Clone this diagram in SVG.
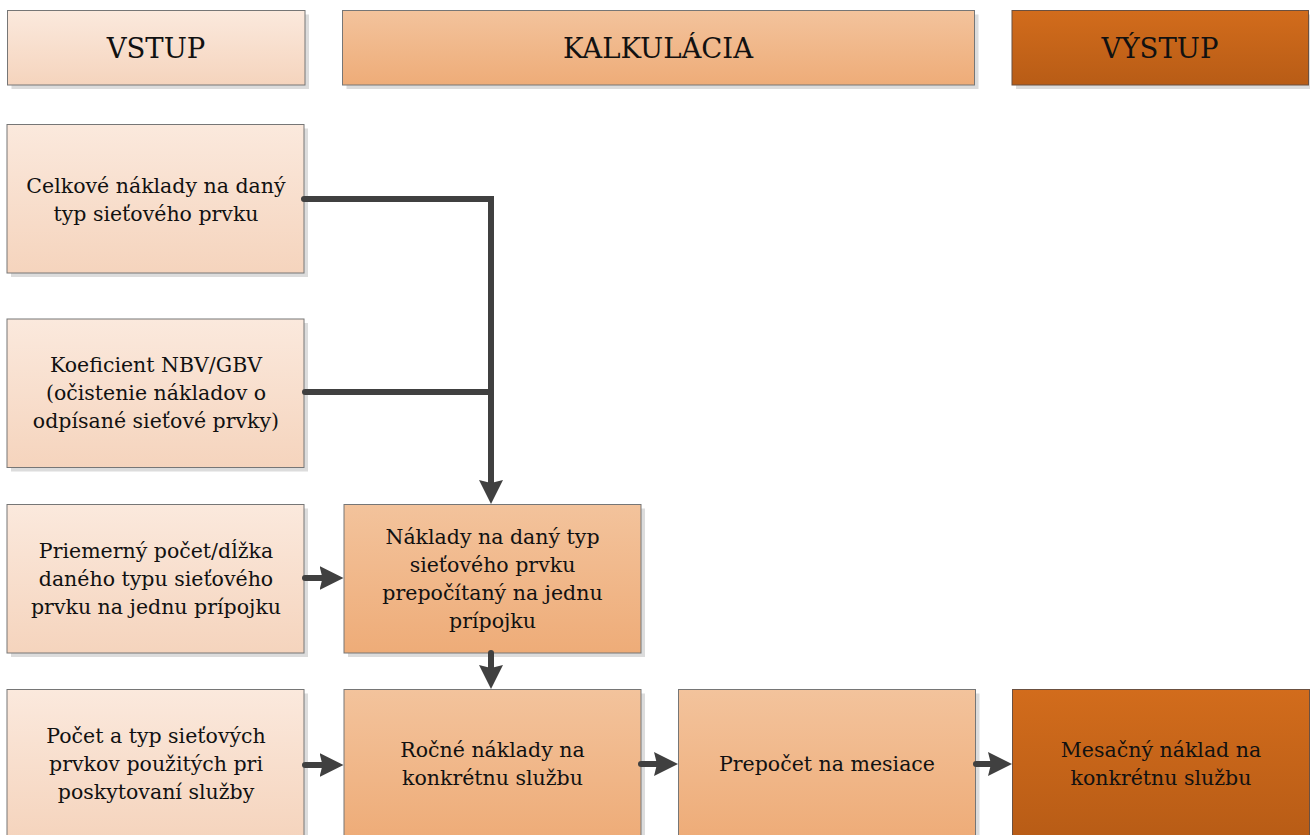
<svg xmlns="http://www.w3.org/2000/svg" width="1310" height="835" viewBox="0 0 1310 835">
<defs>
<linearGradient id="gLight" x1="0" y1="0" x2="0" y2="1"><stop offset="0" stop-color="#fbe9dd"/><stop offset="1" stop-color="#f5d4bd"/></linearGradient>
<linearGradient id="gMid" x1="0" y1="0" x2="0" y2="1"><stop offset="0" stop-color="#f3c39c"/><stop offset="1" stop-color="#eeac78"/></linearGradient>
<linearGradient id="gDark" x1="0" y1="0" x2="0" y2="1"><stop offset="0" stop-color="#d26c1c"/><stop offset="1" stop-color="#b85c16"/></linearGradient>
<marker id="ah" viewBox="0 0 24 24" refX="14" refY="12" markerWidth="24" markerHeight="24" markerUnits="userSpaceOnUse" orient="auto">
<path d="M0,0 L24,12 L0,24 L3,12 Z" fill="#404040"/>
</marker>
</defs>
<style>
.sh{fill:#dcdcdc}
.light{fill:url(#gLight);stroke:#767676;stroke-width:1}
.mid{fill:url(#gMid);stroke:#767676;stroke-width:1}
.dark{fill:url(#gDark);stroke:#6b5040;stroke-width:1}
text{font-family:"DejaVu Serif","Liberation Serif",serif;fill:#111;text-anchor:middle}
.h{font-size:27.5px}
.b{font-size:20.5px}
.c{fill:none;stroke:#404040;stroke-width:6;stroke-linecap:round;stroke-linejoin:miter}
</style>
<rect width="1310" height="835" fill="#fff"/>

<g id="hdr-vstup">
<rect class="sh" x="11.5" y="14.5" width="297.5" height="74.5"/>
<rect class="light" x="7.5" y="10.5" width="297.5" height="74.5"/>
<text class="h" x="156" y="58">VSTUP</text>
</g>
<g id="hdr-kalkulacia">
<rect class="sh" x="346.5" y="14.5" width="632" height="74.5"/>
<rect class="mid" x="342.5" y="10.5" width="632" height="74.5"/>
<text class="h" x="658" y="58">KALKULÁCIA</text>
</g>
<g id="hdr-vystup">
<rect class="sh" x="1016" y="14.5" width="296.5" height="74.5"/>
<rect class="dark" x="1012" y="10.5" width="296.5" height="74.5"/>
<text class="h" x="1160" y="58">VÝSTUP</text>
</g>

<g id="n-celkove">
<rect class="sh" x="11" y="128.5" width="297" height="148.5"/>
<rect class="light" x="7" y="124.5" width="297" height="148.5"/>
<text class="b" x="156" y="193">Celkové náklady na daný</text>
<text class="b" x="156" y="221">typ sieťového prvku</text>
</g>
<g id="n-koeficient">
<rect class="sh" x="11" y="323" width="297" height="148.5"/>
<rect class="light" x="7" y="319" width="297" height="148.5"/>
<text class="b" x="156" y="372">Koeficient NBV/GBV</text>
<text class="b" x="156" y="400">(očistenie nákladov o</text>
<text class="b" x="156" y="428">odpísané sieťové prvky)</text>
</g>
<g id="n-priemerny">
<rect class="sh" x="11" y="508.5" width="297" height="148.5"/>
<rect class="light" x="7" y="504.5" width="297" height="148.5"/>
<text class="b" x="156" y="558">Priemerný počet/dĺžka</text>
<text class="b" x="156" y="586">daného typu sieťového</text>
<text class="b" x="156" y="614">prvku na jednu prípojku</text>
</g>
<g id="n-pocet">
<rect class="sh" x="11" y="693.5" width="297" height="148.5"/>
<rect class="light" x="7" y="689.5" width="297" height="148.5"/>
<text class="b" x="156" y="743">Počet a typ sieťových</text>
<text class="b" x="156" y="771">prvkov použitých pri</text>
<text class="b" x="156" y="799">poskytovaní služby</text>
</g>
<g id="n-naklady">
<rect class="sh" x="348" y="508.5" width="297" height="148.5"/>
<rect class="mid" x="344" y="504.5" width="297" height="148.5"/>
<text class="b" x="492.5" y="544">Náklady na daný typ</text>
<text class="b" x="492.5" y="572">sieťového prvku</text>
<text class="b" x="492.5" y="600">prepočítaný na jednu</text>
<text class="b" x="492.5" y="628">prípojku</text>
</g>
<g id="n-rocne">
<rect class="sh" x="348" y="693.5" width="297" height="148.5"/>
<rect class="mid" x="344" y="689.5" width="297" height="148.5"/>
<text class="b" x="492.5" y="757">Ročné náklady na</text>
<text class="b" x="492.5" y="785">konkrétnu službu</text>
</g>
<g id="n-prepocet">
<rect class="sh" x="682.5" y="693.5" width="297" height="148.5"/>
<rect class="mid" x="678.5" y="689.5" width="297" height="148.5"/>
<text class="b" x="827" y="771">Prepočet na mesiace</text>
</g>
<g id="n-mesacny">
<rect class="sh" x="1016.5" y="693.5" width="297" height="148.5"/>
<rect class="dark" x="1012.5" y="689.5" width="297" height="148.5"/>
<text class="b" x="1161" y="757">Mesačný náklad na</text>
<text class="b" x="1161" y="785">konkrétnu službu</text>
</g>

<g id="connectors">
<path class="c" d="M304,199 H491 V494" marker-end="url(#ah)"/>
<path class="c" d="M305,392 H491"/>
<path class="c" d="M305,578 H333.5" marker-end="url(#ah)"/>
<path class="c" d="M491,653 V679" marker-end="url(#ah)"/>
<path class="c" d="M305,765 H333.5" marker-end="url(#ah)"/>
<path class="c" d="M641,764 H668" marker-end="url(#ah)"/>
<path class="c" d="M976,764 H1002" marker-end="url(#ah)"/>
</g>
</svg>
